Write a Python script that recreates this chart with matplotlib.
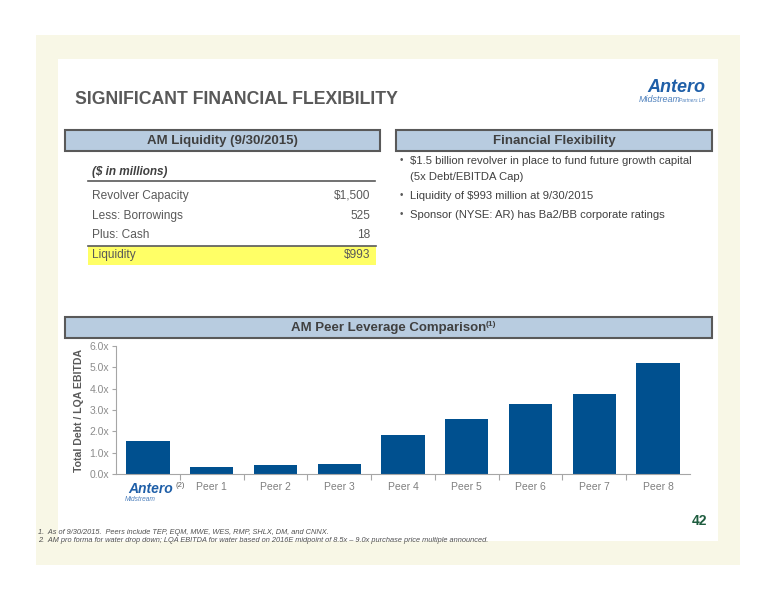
import matplotlib
matplotlib.use("Agg")
import matplotlib.pyplot as plt
from matplotlib.patches import Rectangle

plt.rcParams['font.family'] = ['Liberation Sans', 'DejaVu Sans']

# chart data
categories = ["Antero", "Peer 1", "Peer 2", "Peer 3", "Peer 4", "Peer 5", "Peer 6", "Peer 7", "Peer 8"]
leverage = [1.53, 0.33, 0.43, 0.46, 1.81, 2.56, 3.26, 3.77, 5.19]
y_ticks = [0, 1, 2, 3, 4, 5, 6]

# liquidity table
table_items = ["Revolver Capacity", "Less: Borrowings", "Plus: Cash", "Liquidity"]
table_values = ["$1,500", "525", "18", "$993"]

bullets = [["$1.5 billion revolver in place to fund future growth capital", "(5x Debt/EBITDA Cap)"],
           ["Liquidity of $993 million at 9/30/2015"],
           ["Sponsor (NYSE: AR) has Ba2/BB corporate ratings"]]

footnotes = ["1.  As of 9/30/2015.  Peers include TEP, EQM, MWE, WES, RMP, SHLX, DM, and CNNX.",
             "2.  AM pro forma for water drop down; LQA EBITDA for water based on 2016E midpoint of 8.5x \u2013 9.0x purchase price multiple announced."]

W, H = 776, 600
fig = plt.figure(figsize=(W / 100, H / 100), dpi=100)

def fx(x):
    return x / W

def fy(y):
    return 1 - y / H

def box(x0, y0, x1, y1, **kw):
    fig.patches.append(Rectangle((fx(x0), fy(y1)), fx(x1) - fx(x0), fy(y0) - fy(y1),
                                 transform=fig.transFigure, **kw))

grey = '#595959'
hdr_fill = '#B8CCE0'
blue = '#00508F'

# background panels
box(36, 35, 740, 565, facecolor='#F8F7E6', edgecolor='none', zorder=-2)
box(58, 59, 718, 541, facecolor='white', edgecolor='none', zorder=-1)

# title and logo
fig.text(fx(75), fy(100), "SIGNIFICANT FINANCIAL FLEXIBILITY", fontsize=12.7, fontweight='bold',
         color=grey, va='center')
fig.text(fx(705), fy(87), "Antero", fontsize=13, fontweight='bold', style='italic',
         color='#1F5FA8', ha='right', va='center')
fig.text(fx(681), fy(100), "Midstream", fontsize=6.5, style='italic', color='#4F81BD',
         ha='right', va='center')
fig.text(fx(705), fy(100), "Partners LP", fontsize=3.5, style='italic', color='#4F81BD',
         ha='right', va='center')

# section headers
for (x0, x1, y0, y1, label) in [(65, 380, 130, 151, "AM Liquidity (9/30/2015)"),
                                (396, 712, 130, 151, "Financial Flexibility"),
                                (65, 712, 317, 338, "AM Peer Leverage Comparison")]:
    box(x0, y0, x1, y1, facecolor=hdr_fill, edgecolor=grey, linewidth=1.5, zorder=1)
    fig.text(fx((x0 + x1) / 2), fy((y0 + y1) / 2 + 0.5), label, fontsize=9.5, fontweight='bold',
             color='#404040', ha='center', va='center', zorder=2)
fig.text(fx(491), fy(325), "(1)", fontsize=6, fontweight='bold', color='#404040', ha='center',
         va='center', zorder=2)

# liquidity table
fig.text(fx(92), fy(172), "($ in millions)", fontsize=8.5, fontweight='bold', style='italic',
         color='#404040', va='center')
fig.lines.append(plt.Line2D([fx(88), fx(375)], [fy(181), fy(181)], transform=fig.transFigure,
                            color=grey, linewidth=1.2))
box(88, 246, 376, 265, facecolor='#FFFF66', edgecolor='none', zorder=1)
fig.lines.append(plt.Line2D([fx(88), fx(376)], [fy(246), fy(246)], transform=fig.transFigure,
                            color=grey, linewidth=1.2, zorder=3))
for i, (item, val) in enumerate(zip(table_items, table_values)):
    yy = 196 + i * 19.7
    fig.text(fx(92), fy(yy), item, fontsize=8.6, color='#595959', va='center', zorder=2)
    fig.text(fx(370), fy(yy), val, fontsize=8.6, color='#595959', va='center', ha='right', zorder=2)

# bullets
for yy, lines in zip([161, 196, 215], bullets):
    fig.text(fx(400), fy(yy - 1), "\u2022", fontsize=7, color=grey, va='center')
    for j, line in enumerate(lines):
        fig.text(fx(410), fy(yy + j * 16), line, fontsize=8.1, color='#404040', va='center')

# bar chart
ax = fig.add_axes([fx(116), fy(474), fx(690) - fx(116), fy(346) - fy(474)])
ax.patch.set_alpha(0)
x = range(len(categories))
ax.bar(x, leverage, width=0.68, color=blue, zorder=2)
ax.set_xlim(-0.5, len(categories) - 0.5)
ax.set_ylim(0, 6)
ax.set_yticks(y_ticks)
ax.set_yticklabels(["{:.1f}x".format(v) for v in y_ticks], fontsize=7.5, color='#8C8C8C')
ax.set_xticks([i + 0.5 for i in range(len(categories) - 1)])
ax.set_xticklabels([])
ax.set_xticks(list(x), minor=True)
ax.set_xticklabels([""] + categories[1:], minor=True, fontsize=7.5, color='#7F7F7F')
ax.tick_params(axis='x', which='major', length=4, color='#A6A6A6')
ax.tick_params(axis='x', which='minor', length=0, pad=6)
ax.tick_params(axis='y', length=3, color='#A6A6A6', pad=2)
for s in ['top', 'right']:
    ax.spines[s].set_visible(False)
for s in ['left', 'bottom']:
    ax.spines[s].set_color('#A6A6A6')
ax.set_ylabel("Total Debt / LQA EBITDA", fontsize=7.6, fontweight='bold', color=grey, labelpad=4)

# Antero logo as first category label
ax.text(0.05, -0.12, categories[0], transform=ax.get_xaxis_transform(), fontsize=10,
        fontweight='bold', style='italic', color='#1F5FA8', ha='center', va='center')
ax.text(0.5, -0.09, "(2)", transform=ax.get_xaxis_transform(), fontsize=5.5, color='#595959',
        ha='center', va='center')
ax.text(-0.12, -0.2, "Midstream", transform=ax.get_xaxis_transform(), fontsize=4.8,
        style='italic', color='#4F81BD', ha='center', va='center')

# page number and footnotes
fig.text(fx(707), fy(521), "42", fontsize=10, fontweight='bold', color='#1E5C3E', ha='right',
         va='center')
for i, note in enumerate(footnotes):
    fig.text(fx(38), fy(532 + i * 9), note, fontsize=5.3, style='italic', color='#505050',
             va='center')

fig.savefig("out.png", dpi=100)
